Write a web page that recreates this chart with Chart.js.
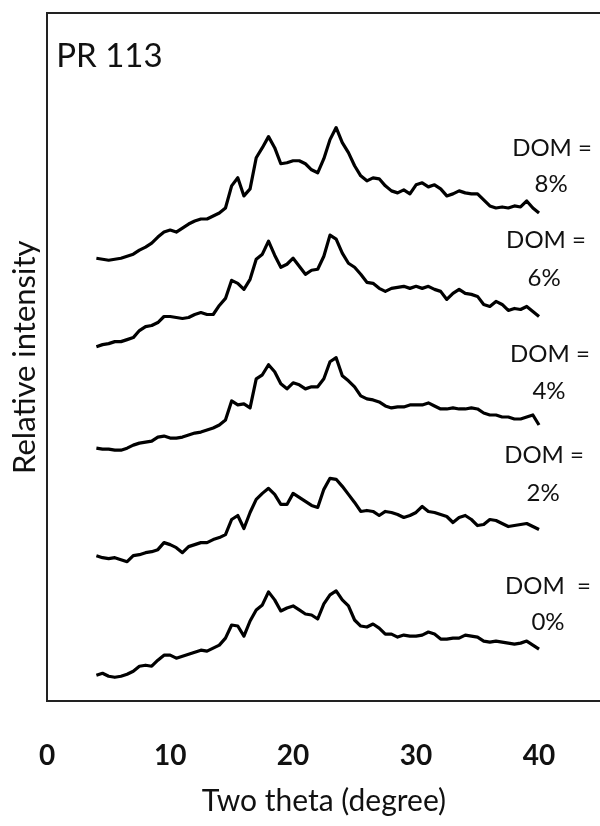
<!DOCTYPE html>
<html><head><meta charset="utf-8">
<script src="https://cdn.jsdelivr.net/npm/chart.js@4/dist/chart.umd.min.js"></script>
<style>html,body{margin:0;padding:0;background:#fff;overflow:hidden}</style></head>
<body><canvas id="c" width="606" height="826"></canvas>
<script>
const twoTheta = [4,4.5,5,5.5,6,6.5,7,7.5,8,8.5,9,9.5,10,10.5,11,11.5,12,12.5,13,13.5,14,14.5,15,15.5,16,16.5,17,17.5,18,18.5,19,19.5,20,20.5,21,21.5,22,22.5,23,23.5,24,24.5,25,25.5,26,26.5,27,27.5,28,28.5,29,29.5,30,30.5,31,31.5,32,32.5,33,33.5,34,34.5,35,35.5,36,36.5,37,37.5,38,38.5,39,39.5,40];
// intensities (arbitrary units, vertically offset patterns as plotted)
const dom8 = [441,440,439,440,441,443,445,449,452,456,462,467,469,467,471,475,478,480,480,483,486,491,513,521,503,510,541,551,562,551,535,536,538,538,535,529,526,540,559,571,556,546,533,523,518,521,520,513,508,506,509,505,514,516,512,514,510,503,505,508,506,505,505,499,493,491,492,491,493,492,498,491,486];
const dom6 = [353,355,356,358,358,360,362,369,373,374,377,383,383,382,381,382,385,387,385,385,394,401,419,416,410,420,440,445,458,444,432,435,441,433,425,429,430,443,464,460,446,436,432,425,417,416,411,408,411,412,413,411,413,411,413,410,408,400,406,410,406,405,403,395,393,398,395,389,391,390,393,388,383];
const dom4 = [252,251,251,250,250,252,255,257,258,259,263,264,262,262,263,265,267,268,270,272,275,280,299,295,296,292,321,325,335,328,316,311,317,315,311,313,313,321,338,342,324,319,313,304,301,300,298,294,292,293,293,295,295,295,297,294,291,291,292,291,291,292,291,287,285,285,283,283,281,281,283,285,275];
const dom2 = [145,143,142,143,141,139,145,146,148,149,151,158,156,153,148,154,156,158,158,161,163,166,181,185,172,188,201,207,212,206,196,196,207,203,199,195,193,211,222,221,214,206,198,189,190,189,185,189,188,186,183,185,188,194,189,188,186,184,178,183,185,181,175,176,181,180,177,174,175,176,177,174,171];
const dom0 = [26,28,25,24,25,27,30,35,36,35,41,46,46,43,45,47,49,51,50,53,56,63,76,75,65,80,91,96,109,101,90,93,95,91,87,86,82,97,106,110,101,95,81,75,74,77,73,67,67,64,66,65,65,66,69,67,62,62,63,63,66,65,64,60,59,60,59,58,57,58,60,56,52];
const xTicks = [0,10,20,30,40];
const panelTitle = 'PR 113';
const seriesLabels = [['DOM =','8%'],['DOM =','6%'],['DOM =','4%'],['DOM =','2%'],['DOM  =','0%']];
const xTitle = 'Two theta (degree)';
const yTitle = 'Relative intensity';

// label anchor positions (axis units)
const labelAnchors = [
  {x1:41.06,y1:543,x2:40.98,y2:507},
  {x1:40.57,y1:451,x2:40.41,y2:413},
  {x1:40.89,y1:338,x2:40.81,y2:301},
  {x1:40.41,y1:237,x2:40.33,y2:199},
  {x1:40.73,y1:107,x2:40.73,y2:71}
];

const series = [dom8, dom6, dom4, dom2, dom0];
const datasets = series.map((s, i) => ({
  label: seriesLabels[i].join(' '),
  data: twoTheta.map((t, k) => ({x: t, y: s[k]})),
  borderColor: '#000', borderWidth: 3.2, pointRadius: 0, tension: 0, fill: false,
  borderJoinStyle: 'round'
}));

const textPlugin = {
  id: 'txt',
  afterDatasetsDraw(chart) {
    const {ctx, chartArea, scales} = chart;
    const x = scales.x, y = scales.y;
    ctx.save();
    ctx.fillStyle = '#111';
    ctx.font = '33px Lato';
    ctx.textAlign = 'left'; ctx.textBaseline = 'alphabetic';
    ctx.fillText(panelTitle, chartArea.left + 9, chartArea.top + 54);
    ctx.font = '24px Lato';
    ctx.textAlign = 'center';
    seriesLabels.forEach((lab, i) => {
      const a = labelAnchors[i];
      ctx.fillText(lab[0], x.getPixelForValue(a.x1), y.getPixelForValue(a.y1));
      ctx.fillText(lab[1], x.getPixelForValue(a.x2), y.getPixelForValue(a.y2));
    });
    ctx.restore();
  }
};

new Chart(document.getElementById('c'), {
  type: 'line',
  data: {datasets},
  plugins: [textPlugin],
  options: {
    responsive: false, animation: false, devicePixelRatio: 1,
    layout: {padding: {left: 3, top: 13, right: 5.5, bottom: 0}},
    plugins: {legend: {display: false}, tooltip: {enabled: false}},
    scales: {
      x: {
        type: 'linear', position: 'bottom', min: 0, max: 45,
        afterBuildTicks: (s) => { s.ticks = xTicks.map(v => ({value: v})); },
        ticks: {font: {family: 'Lato', size: 28, weight: 'bold'}, color: '#111', padding: 38, maxRotation: 0},
        grid: {display: false, drawTicks: false},
        border: {display: true, color: '#222', width: 2},
        title: {display: true, text: xTitle, color: '#111', font: {family: 'Lato', size: 30}, padding: {top: -28, bottom: 7}}
      },
      x2: {
        type: 'linear', position: 'top', min: 0, max: 45,
        ticks: {display: false}, grid: {display: false, drawTicks: false},
        border: {display: true, color: '#222', width: 2}
      },
      y: {
        type: 'linear', min: 0, max: 685,
        ticks: {display: false}, grid: {display: false, drawTicks: false},
        border: {display: true, color: '#222', width: 2},
        title: {display: true, text: yTitle, color: '#111', font: {family: 'Lato', size: 31}, padding: {top: 3, bottom: 4}}
      }
    }
  }
});
</script>
</body></html>
